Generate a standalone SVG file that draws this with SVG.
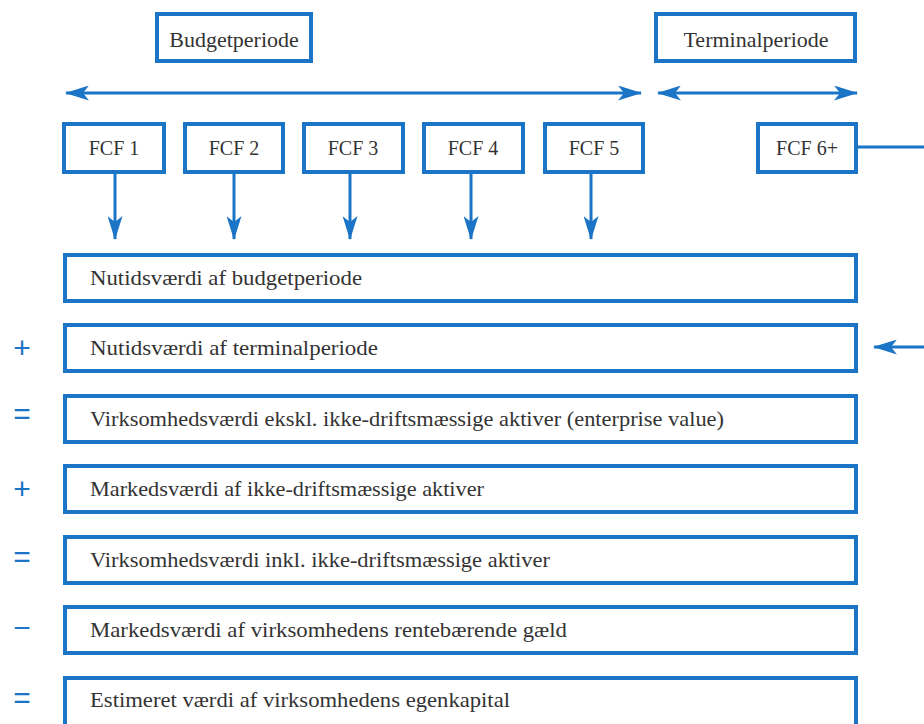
<svg xmlns="http://www.w3.org/2000/svg" width="924" height="724" viewBox="0 0 924 724">
<style>
.box{fill:#fff;stroke:#1b74c5;stroke-width:4}
.ln{fill:none;stroke:#1b74c5;stroke-width:3}
.t{font-family:"Liberation Serif","Times New Roman",serif;fill:#333;font-size:22px}
.c{text-anchor:middle}
.f{font-size:20px}
.sym{font-family:"Liberation Sans",Arial,sans-serif;fill:#1b74c5;font-size:30px;text-anchor:middle}
</style>
<defs>
<marker id="ah" markerUnits="userSpaceOnUse" viewBox="0 0 24 15" refX="23" refY="7.5" markerWidth="24" markerHeight="15" orient="auto-start-reverse">
<path d="M0,0 L24,7.5 L0,15 L6,7.5 Z" fill="#1b74c5"/>
</marker>
</defs>
<rect width="924" height="724" fill="#fff"/>
<g id="budgetperiode"><rect class="box" x="157" y="14" width="154" height="47"/><text class="t c" x="234" y="47">Budgetperiode</text></g>
<g id="terminalperiode"><rect class="box" x="656" y="14" width="199" height="47"/><text class="t c" x="756" y="47">Terminalperiode</text></g>
<g id="fcf1"><rect class="box" x="64" y="124" width="100" height="48"/><text class="t c f" x="114" y="155">FCF 1</text></g>
<g id="fcf2"><rect class="box" x="185" y="124" width="98" height="48"/><text class="t c f" x="234" y="155">FCF 2</text></g>
<g id="fcf3"><rect class="box" x="304" y="124" width="99" height="48"/><text class="t c f" x="353" y="155">FCF 3</text></g>
<g id="fcf4"><rect class="box" x="424" y="124" width="99" height="48"/><text class="t c f" x="473" y="155">FCF 4</text></g>
<g id="fcf5"><rect class="box" x="545" y="124" width="98" height="48"/><text class="t c f" x="594" y="155">FCF 5</text></g>
<g id="fcf6"><rect class="box" x="758" y="124" width="98" height="48"/><text class="t c f" x="807" y="155">FCF 6+</text></g>
<g id="row1"><rect class="box" x="65" y="255" width="791" height="46"/><text class="t" x="90" y="285" textLength="272" lengthAdjust="spacingAndGlyphs">Nutidsværdi af budgetperiode</text></g>
<g id="row2"><rect class="box" x="65" y="325" width="791" height="46"/><text class="t" x="90" y="355" textLength="288" lengthAdjust="spacingAndGlyphs">Nutidsværdi af terminalperiode</text></g>
<g id="row3"><rect class="box" x="65" y="396" width="791" height="46"/><text class="t" x="90" y="426" textLength="634" lengthAdjust="spacingAndGlyphs">Virksomhedsværdi ekskl. ikke-driftsmæssige aktiver (enterprise value)</text></g>
<g id="row4"><rect class="box" x="65" y="466" width="791" height="46"/><text class="t" x="90" y="496" textLength="394" lengthAdjust="spacingAndGlyphs">Markedsværdi af ikke-driftsmæssige aktiver</text></g>
<g id="row5"><rect class="box" x="65" y="537" width="791" height="46"/><text class="t" x="90" y="567" textLength="460" lengthAdjust="spacingAndGlyphs">Virksomhedsværdi inkl. ikke-driftsmæssige aktiver</text></g>
<g id="row6"><rect class="box" x="65" y="607" width="791" height="46"/><text class="t" x="90" y="637" textLength="477" lengthAdjust="spacingAndGlyphs">Markedsværdi af virksomhedens rentebærende gæld</text></g>
<g id="row7"><rect class="box" x="65" y="678" width="791" height="50"/><text class="t" x="90" y="707" textLength="420" lengthAdjust="spacingAndGlyphs">Estimeret værdi af virksomhedens egenkapital</text></g>
<g id="symbols">
<text class="sym" x="22" y="358">+</text>
<text class="sym" x="22" y="424">=</text>
<text class="sym" x="22" y="499">+</text>
<text class="sym" x="22" y="567">=</text>
<text class="sym" x="22" y="638">−</text>
<text class="sym" x="22" y="708">=</text>
</g>
<g id="connectors">
<line class="ln" x1="66" y1="93" x2="641" y2="93" marker-start="url(#ah)" marker-end="url(#ah)"/>
<line class="ln" x1="658" y1="93" x2="857" y2="93" marker-start="url(#ah)" marker-end="url(#ah)"/>
<line class="ln" x1="115" y1="174" x2="115" y2="239" marker-end="url(#ah)"/>
<line class="ln" x1="234" y1="174" x2="234" y2="239" marker-end="url(#ah)"/>
<line class="ln" x1="350" y1="174" x2="350" y2="239" marker-end="url(#ah)"/>
<line class="ln" x1="471" y1="174" x2="471" y2="239" marker-end="url(#ah)"/>
<line class="ln" x1="591" y1="174" x2="591" y2="239" marker-end="url(#ah)"/>
<line class="ln" x1="858" y1="147" x2="924" y2="147"/>
<line class="ln" x1="924" y1="347" x2="874" y2="347" marker-end="url(#ah)"/>
</g>
</svg>
